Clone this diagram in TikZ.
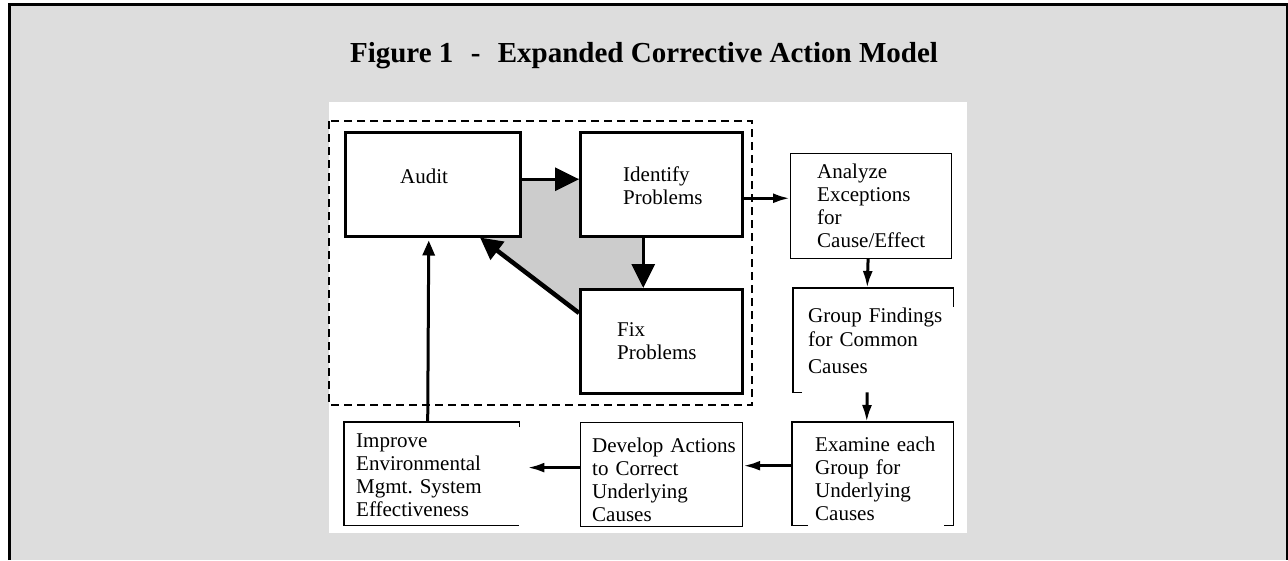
\documentclass[tikz,border=0pt]{standalone}
\usepackage{fontspec}
\setmainfont{Liberation Serif}
\usepackage{xcolor}
\usetikzlibrary{arrows.meta}
\usetikzlibrary{calc}

\definecolor{bgpanel}{RGB}{221,221,221}
\definecolor{loopgrey}{RGB}{204,204,204}

\tikzset{
  stepbox/.style={draw, line width=2.5pt, fill=white, anchor=north west, inner sep=0pt},
  thinbox/.style={draw, line width=1.2pt, fill=white, anchor=north west, inner sep=0pt},
  openbox/.style={fill=white, anchor=north west, inner sep=0pt},
  steptext/.style={anchor=base west, inner sep=0pt, align=left, text width=150pt,
                   font=\fontsize{21}{23}\selectfont\frenchspacing},
  bigarrow/.style={line width=3.5pt, -{Triangle[length=24pt,width=23pt]}},
  flowarrow/.style={line width=3pt, -{Latex[length=17pt,width=10pt]}}
}

\begin{document}
\begin{tikzpicture}[x=1pt, y=-1pt]
        \useasboundingbox (0,0) rectangle (1288,560);
        %frame and panels
        \fill[bgpanel] (9,4) rectangle (1288,560);
        \draw[line width=3pt] (9,560) -- (9,4) -- (1287,4) -- (1287,560);
        \fill[white] (329,102) rectangle (967,533);
        \node[font=\fontsize{29}{34}\selectfont\bfseries, anchor=base] (title) at (644,62)
              {Figure 1\hspace{0.6em}-\hspace{0.6em}Expanded Corrective Action Model};
        %inner loop
        \draw[line width=2pt, dash pattern=on 8pt off 5pt] (329,121) rectangle (752,405);
        \fill[loopgrey] (519,178) -- (642,178) -- (642,313) -- (579,313)
              -- (480,235) -- (519,235) -- cycle;
        \node[stepbox, minimum width=175pt, minimum height=104pt] (audit) at (344,131) {};
        \node[stepbox, minimum width=162pt, minimum height=104pt] (ident) at (579,131) {};
        \node[stepbox, minimum width=162pt, minimum height=104pt] (fix) at (579,288) {};
        \node[steptext] (audit-t) at ($(audit.north west)+(56,52)$) {Audit};
        \node[steptext] (ident-t) at ($(ident.north west)+(44,50)$) {Identify\\Problems};
        \node[steptext] (fix-t) at ($(fix.north west)+(38,48)$) {Fix\\Problems};
        %outer steps
        \node[thinbox, minimum width=161pt, minimum height=105pt] (analyze) at (790,153) {};
        \node[openbox, minimum width=160pt, minimum height=104pt] (group) at (793,288) {};
        \node[openbox, minimum width=161pt, minimum height=103pt] (examine) at (792,422) {};
        \node[thinbox, minimum width=162pt, minimum height=104pt] (develop) at (580,422) {};
        \node[openbox, minimum width=175pt, minimum height=103pt] (improve) at (344,422) {};
        \node[steptext] (analyze-t) at ($(analyze.north west)+(27,25)$)
              {Analyze\\Exceptions\\for\\Cause/Effect};
        \node[steptext] (group-t) at ($(group.north west)+(15,34)$)
              {Group Findings\\[1pt]for Common\\[4pt]Causes};
        \node[steptext] (examine-t) at ($(examine.north west)+(23,29)$)
              {Examine each\\Group for\\Underlying\\Causes};
        \node[steptext] (develop-t) at ($(develop.north west)+(12,30)$)
              {Develop Actions\\to Correct\\Underlying\\Causes};
        \node[steptext] (improve-t) at ($(improve.north west)+(12,25)$)
              {Improve\\Environmental\\Mgmt. System\\Effectiveness};
        %broken borders
        \draw[line width=1.2pt] ([xshift=9pt]group.south west) -- (group.south west)
              -- (group.north west) -- (group.north east) -- ([yshift=-19pt]group.north east);
        \draw[line width=1.2pt] ([xshift=16pt]examine.south west) -- (examine.south west)
              -- (examine.north west) -- (examine.north east) -- (examine.south east)
              -- ([xshift=-9pt]examine.south east);
        \draw[line width=1.2pt] ([yshift=-5pt]improve.north east) -- (improve.north east)
              -- (improve.north west) -- (improve.south west) -- (improve.south east);
        %loop arrows
        \draw[bigarrow] ([yshift=5pt]audit.east) -- ([yshift=5pt]ident.west);
        \draw[bigarrow] ([xshift=-18pt]ident.south) -- ([xshift=-18pt]fix.north);
        \draw[line width=4.5pt, -{Triangle[length=22pt,width=22pt]}]
              ([yshift=-25pt]fix.north west) -- ([xshift=136pt]audit.south west);
        %flow arrows
        \coordinate (ia) at ([yshift=-14pt]ident.east);
        \draw[flowarrow] (ia) -- (ia -| analyze.west);
        \draw[flowarrow] ([xshift=-3pt]analyze.south) -- ([xshift=-6pt]group.north);
        \draw[flowarrow] ([xshift=-6pt]group.south) -- ([xshift=-6pt]examine.north);
        \coordinate (ed) at ([yshift=8pt]examine.west);
        \draw[flowarrow] (ed) -- (ed -| develop.east);
        \coordinate (di) at ([yshift=7pt]develop.west);
        \draw[flowarrow] (di) -- ($(di -| improve.east)+(8,0)$);
        \draw[line width=3pt, -{Triangle[length=15pt,width=12pt]}]
              ([xshift=-4pt]improve.north) -- ([xshift=-4pt, yshift=-3pt]audit.south);
\end{tikzpicture}
\end{document}
